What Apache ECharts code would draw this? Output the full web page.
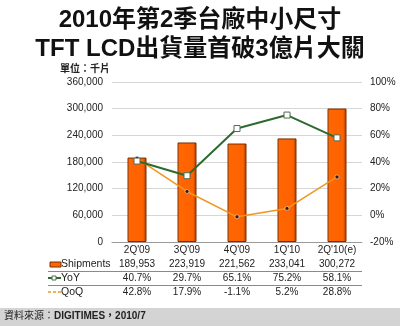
<!DOCTYPE html>
<html>
<head>
<meta charset="utf-8">
<script src="https://cdn.jsdelivr.net/npm/echarts@6/dist/echarts.min.js"></script>
<style>
  html, body { margin: 0; padding: 0; background: #fff; }
  #chart { width: 400px; height: 336px; }
</style>
</head>
<body>
<div id="chart"></div>
<script>
// Quarterly small/medium TFT LCD shipments (thousand units) with YoY / QoQ growth
const quarters = ["2Q'09", "3Q'09", "4Q'09", "1Q'10", "2Q'10(e)"];
const shipments = [189953, 223919, 221562, 233041, 300272];
const yoy = [40.7, 29.7, 65.1, 75.2, 58.1];
const qoq = [42.8, 17.9, -1.1, 5.2, 28.8];
const leftTicks = [0, 60000, 120000, 180000, 240000, 300000, 360000];
const rightTicks = [-20, 0, 20, 40, 60, 80, 100];
const titleLines = ['2010年第2季台廠中小尺寸', 'TFT LCD出貨量首破3億片大關'];

const FONT = '"Liberation Sans", Arial, "Noto Sans CJK TC", sans-serif';
const TEXT = '#222';
const ORANGE = '#ff6600';
const GREEN = '#2d6a2d';
const QOQ_COLOR = '#f0961e';

const fmtNum = v => v.toLocaleString('en-US');
const fmtPct = v => v.toFixed(1) + '%';

// one extra category axis per table row, stacked under the plot
function tableRowAxis(values, offset) {
  return {
    type: 'category', gridIndex: 0, position: 'bottom', offset: offset,
    data: values,
    axisLine: { show: false }, axisTick: { show: false }, splitLine: { show: false },
    axisLabel: { fontSize: 10, color: TEXT, fontFamily: FONT, margin: 3, interval: 0 }
  };
}

function titleLine(text, y) {
  return {
    type: 'text', x: 200, y: y,
    style: {
      text: text, fontSize: 24, fontWeight: 'bold', fill: '#111', fontFamily: FONT,
      align: 'center', verticalAlign: 'middle'
    }
  };
}

const chart = echarts.init(document.getElementById('chart'), null, { renderer: 'canvas' });

chart.setOption({
  backgroundColor: '#fff',
  animation: false,
  grid: { left: 112, right: 38, top: 82, bottom: 94 },
  xAxis: [
    {
      type: 'category', data: quarters, gridIndex: 0, position: 'bottom',
      axisLine: { show: true, lineStyle: { color: '#9a9a9a', width: 1 } },
      axisTick: { show: false },
      axisLabel: { fontSize: 10, color: TEXT, fontFamily: FONT, margin: 3, interval: 0 }
    },
    tableRowAxis(shipments.map(fmtNum), 14),
    tableRowAxis(yoy.map(fmtPct), 28),
    tableRowAxis(qoq.map(fmtPct), 42)
  ],
  yAxis: [
    {
      type: 'value', min: leftTicks[0], max: leftTicks[leftTicks.length - 1], interval: 60000,
      axisLine: { show: false }, axisTick: { show: false },
      axisLabel: { fontSize: 10, color: TEXT, fontFamily: FONT, margin: 9, formatter: v => fmtNum(v) },
      splitLine: { lineStyle: { color: '#d6d6d6', width: 1 } }
    },
    {
      type: 'value', min: rightTicks[0], max: rightTicks[rightTicks.length - 1], interval: 20,
      position: 'right',
      axisLine: { show: false }, axisTick: { show: false },
      axisLabel: { fontSize: 10, color: TEXT, fontFamily: FONT, margin: 8, formatter: v => v + '%' },
      splitLine: { show: false }
    }
  ],
  series: [
    {
      name: 'Shipments', type: 'bar', data: shipments, xAxisIndex: 0, yAxisIndex: 0,
      barWidth: 19, z: 2,
      itemStyle: {
        color: new echarts.graphic.LinearGradient(0, 0, 1, 0, [
          { offset: 0, color: '#ff7a20' },
          { offset: 0.12, color: ORANGE },
          { offset: 0.82, color: '#ff6200' },
          { offset: 1, color: '#a33a00' }
        ]),
        borderColor: '#7a2e00', borderWidth: 1
      }
    },
    {
      name: 'YoY', type: 'line', data: yoy, xAxisIndex: 0, yAxisIndex: 1, z: 4,
      symbol: 'rect', symbolSize: 6,
      lineStyle: { color: GREEN, width: 2 },
      itemStyle: { color: '#fff', borderColor: '#556b55', borderWidth: 1 }
    },
    {
      name: 'QoQ', type: 'line', data: qoq, xAxisIndex: 0, yAxisIndex: 1, z: 3,
      symbol: 'circle', symbolSize: 4,
      lineStyle: { color: QOQ_COLOR, width: 1.5 },
      itemStyle: { color: '#3a1800', borderColor: '#fff', borderWidth: 0.5 }
    }
  ],
  graphic: [
    titleLine(titleLines[0], 20),
    titleLine(titleLines[1], 49),
    // unit note
    { type: 'text', left: 60, top: 64, style: { text: '單位：千片', fontSize: 10, fontWeight: 'bold', fill: TEXT, fontFamily: FONT } },
    // table row keys
    { type: 'rect', shape: { x: 50, y: 262, width: 11, height: 5 }, style: { fill: ORANGE, stroke: '#7a2e00', lineWidth: 1 } },
    { type: 'text', left: 61, top: 259, style: { text: 'Shipments', fontSize: 10.5, fill: TEXT, fontFamily: FONT } },
    { type: 'line', shape: { x1: 48, y1: 278, x2: 61, y2: 278 }, style: { stroke: GREEN, lineWidth: 2 } },
    { type: 'rect', shape: { x: 52, y: 276, width: 4, height: 4 }, style: { fill: '#fff', stroke: '#556b55', lineWidth: 1 } },
    { type: 'text', left: 61, top: 273, style: { text: 'YoY', fontSize: 10.5, fill: TEXT, fontFamily: FONT } },
    { type: 'line', shape: { x1: 48, y1: 292, x2: 61, y2: 292 }, style: { stroke: QOQ_COLOR, lineWidth: 1.5, lineDash: [3, 2] } },
    { type: 'text', left: 61, top: 287, style: { text: 'QoQ', fontSize: 10.5, fill: TEXT, fontFamily: FONT } },
    // table separators
    { type: 'line', shape: { x1: 48, y1: 271.5, x2: 362, y2: 271.5 }, style: { stroke: '#8a8a8a', lineWidth: 1 } },
    { type: 'line', shape: { x1: 48, y1: 285.5, x2: 362, y2: 285.5 }, style: { stroke: '#8a8a8a', lineWidth: 1 } },
    // source band
    { type: 'rect', shape: { x: 0, y: 308, width: 400, height: 18 }, style: { fill: '#d4d4d4' } },
    {
      type: 'text', left: 4, top: 311,
      style: {
        text: '{a|資料來源：}{b|DIGITIMES，2010/7}',
        rich: {
          a: { fontSize: 10, fill: TEXT, fontFamily: FONT },
          b: { fontSize: 10, fontWeight: 'bold', fill: TEXT, fontFamily: FONT }
        }
      }
    }
  ]
});
</script>
</body>
</html>
